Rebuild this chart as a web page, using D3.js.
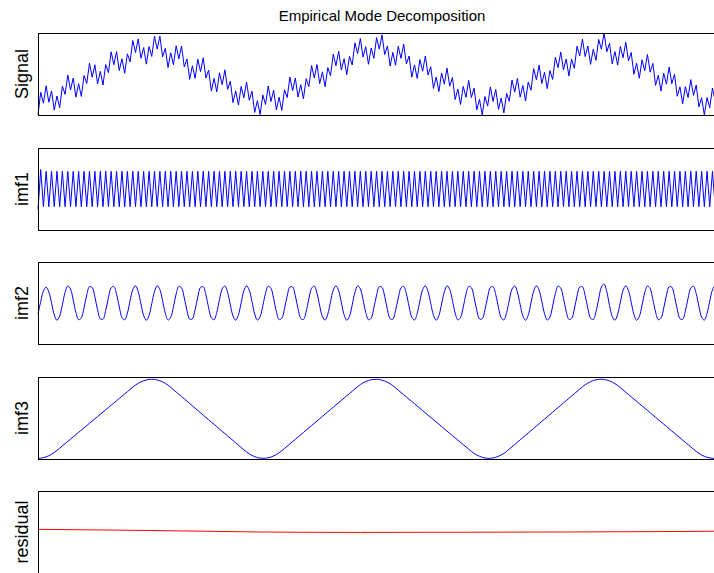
<!DOCTYPE html>
<html>
<head>
<meta charset="utf-8">
<script src="https://cdn.jsdelivr.net/npm/d3@7"></script>
<style>
  body { margin: 0; background: #fff; }
</style>
</head>
<body>
<div class="emd-chart"></div>
<script>
// Panel labels, top to bottom
var panelNames = ["Signal", "imf1", "imf2", "imf3", "residual"];

// Signal, one value per sample (sample = half period of imf1)
var signal = [
  -5.28, -2.31, -3.75, -1.45, -3.63, -2.13, -4.68, -2.80, -4.36, -1.50,
  -2.58, -0.01, -1.99, -0.42, -2.95, -1.17, -2.86, -0.07, -1.13, 1.55,
  -0.30, 1.35, -1.19, 0.48, -1.34, 1.37, 0.31, 3.08, 1.36, 3.11,
  0.58, 2.16, 0.22, 2.81, 1.74, 4.58, 2.99, 4.80, 2.22, 3.64,
  1.44, 3.77, 2.46, 5.15, 3.44, 5.15, 2.40, 3.54, 0.98, 2.95,
  1.36, 3.89, 2.14, 3.85, 1.06, 2.12, -0.59, 1.23, -0.45, 2.10,
  0.44, 2.28, -0.41, 0.64, -2.15, -0.46, -2.24, 0.29, -1.29, 0.68,
  -1.91, -0.82, -3.68, -2.13, -4.01, -1.53, -3.04, -0.94, -3.36, -2.16,
  -4.99, -3.42, -5.28, -2.66, -3.93, -1.47, -3.54, -2.04, -4.66, -2.97,
  -4.72, -1.97, -3.01, -0.29, -2.09, -0.40, -2.94, -1.30, -3.17, -0.50,
  -1.56, 1.25, -0.42, 1.38, -1.15, 0.41, -1.57, 0.98, -0.11, 2.76,
  1.23, 3.14, 0.65, 2.16, 0.04, 2.47, 1.33, 4.26, 2.84, 4.85,
  2.38, 3.76, 1.42, 3.59, 2.21, 4.96, 3.43, 5.33, 2.71, 3.85,
  1.19, 2.99, 1.29, 3.82, 2.20, 4.10, 1.46, 2.52, -0.30, 1.34,
  -0.47, 2.05, 0.49, 2.52, -0.01, 1.09, -1.79, -0.28, -2.21, 0.26,
  -1.23, 0.91, -1.50, -0.34, -3.27, -1.87, -3.93, -1.52, -2.98, -0.73,
  -3.00, -1.75, -4.64, -3.25, -5.33, -2.87, -4.15, -1.60, -3.52, -1.93,
  -4.58, -3.07, -5.05, -2.45, -3.51, -0.67, -2.29, -0.44, -2.96, -1.41,
  -3.46, -0.95, -2.05, 0.84, -0.64, 1.31, -1.14, 0.35, -1.82, 0.57,
  -0.60, 2.34, 0.97, 3.05, 0.67, 2.12, -0.14, 2.11, 0.87, 3.82,
  2.54, 4.77, 2.44, 3.85, 1.41, 3.43, 1.94, 4.72, 3.43, 5.58,
  3.08, 4.21, 1.46, 3.11, 1.30, 3.80, 2.28, 4.35, 1.87, 2.99,
  0.09, 1.55, -0.44, 2.01, 0.54, 2.73, 0.37, 1.54, -1.39, -0.04,
  -2.15, 0.23, -1.23, 1.06, -1.16, 0.10, -2.84, -1.59, -3.84, -1.55,
  -3.01, -0.62, -2.72, -1.35, -4.25, -3.03, -5.31, -3.02, -4.36, -1.74,
  -3.50, -1.79, -4.43, -3.02, -5.21
];

// imf1: fast oscillation (trough, peak, trough ...)
var imf1 = [
  -1.15, 1.1,
  -1, 1, -1, 1, -1, 1, -1, 1, -1, 1, -1, 1, -1, 1, -1, 1, -1, 1, -1, 1,
  -1, 1, -1, 1, -1, 1, -1, 1, -1, 1, -1, 1, -1, 1, -1, 1, -1, 1, -1, 1,
  -1, 1, -1, 1, -1, 1, -1, 1, -1, 1, -1, 1, -1, 1, -1, 1, -1, 1, -1, 1,
  -1, 1, -1, 1, -1, 1, -1, 1, -1, 1, -1, 1, -1, 1, -1, 1, -1, 1, -1, 1,
  -1, 1, -1, 1, -1, 1, -1, 1, -1, 1, -1, 1, -1, 1, -1, 1, -1, 1, -1, 1,
  -1, 1, -1, 1, -1, 1, -1, 1, -1, 1, -1, 1, -1, 1, -1, 1, -1, 1, -1, 1,
  -1, 1, -1, 1, -1, 1, -1, 1, -1, 1, -1, 1, -1, 1, -1, 1, -1, 1, -1, 1,
  -1, 1, -1, 1, -1, 1, -1, 1, -1, 1, -1, 1, -1, 1, -1, 1, -1, 1, -1, 1,
  -1, 1, -1, 1, -1, 1, -1, 1, -1, 1, -1, 1, -1, 1, -1, 1, -1, 1, -1, 1,
  -1, 1, -1, 1, -1, 1, -1, 1, -1, 1, -1, 1, -1, 1, -1, 1, -1, 1, -1, 1,
  -1, 1, -1, 1, -1, 1, -1, 1, -1, 1, -1, 1, -1, 1, -1, 1, -1, 1, -1, 1,
  -1, 1, -1, 1, -1, 1, -1, 1, -1, 1, -1, 1, -1, 1, -1, 1, -1, 1, -1, 1,
  -1, 1, -1, 1, -1, 1, -1, 1, -1, 1, -1, 1,
  -1
];

// imf2: medium oscillation
var imf2 = [
  -0.63, 0.08, 0.69, 0.92, 0.64, 0.01, -0.69, -1.00, -0.76, -0.10,
  0.62, 0.99, 0.81, 0.18, -0.55, -0.97, -0.86, -0.27, 0.47, 0.95,
  0.90, 0.35, -0.39, -0.92, -0.94, -0.43, 0.31, 0.88, 0.96, 0.51,
  -0.22, -0.84, -0.98, -0.59, 0.14, 0.78, 1.00, 0.66, -0.05, -0.73,
  -1.00, -0.72, -0.04, 0.66, 1.00, 0.78, 0.13, -0.59, -0.99, -0.83,
  -0.22, 0.52, 0.97, 0.88, 0.30, -0.44, -0.94, -0.92, -0.39, 0.36,
  0.91, 0.95, 0.47, -0.28, -0.86, -0.97, -0.54, 0.19, 0.82, 0.99,
  0.61, -0.10, -0.76, -1.00, -0.68, 0.01, 0.70, 1.00, 0.74, 0.08,
  -0.64, -0.99, -0.80, -0.16, 0.56, 0.98, 0.85, 0.25, -0.49, -0.96,
  -0.89, -0.34, 0.41, 0.93, 0.93, 0.42, -0.33, -0.89, -0.96, -0.50,
  0.24, 0.85, 0.98, 0.57, -0.16, -0.80, -0.99, -0.64, 0.07, 0.74,
  1.00, 0.71, 0.02, -0.68, -1.00, -0.77, -0.11, 0.61, 0.99, 0.82,
  0.20, -0.54, -0.97, -0.87, -0.28, 0.46, 0.95, 0.91, 0.37, -0.38,
  -0.91, -0.94, -0.45, 0.29, 0.87, 0.97, 0.53, -0.21, -0.83, -0.99,
  -0.60, 0.12, 0.77, 1.00, 0.67, -0.03, -0.71, -1.00, -0.73, -0.06,
  0.65, 1.00, 0.79, 0.15, -0.58, -0.98, -0.84, -0.23, 0.51, 0.96,
  0.89, 0.32, -0.43, -0.93, -0.92, -0.40, 0.35, 0.90, 0.95, 0.48,
  -0.26, -0.86, -0.98, -0.56, 0.17, 0.81, 0.99, 0.63, -0.09, -0.75,
  -1.00, -0.69, 0.00, 0.69, 1.00, 0.75, 0.09, -0.62, -0.99, -0.81,
  -0.18, 0.55, 0.98, 0.86, 0.27, -0.48, -0.95, -0.90, -0.35, 0.40,
  0.92, 0.94, 0.43, -0.31, -0.88, -0.96, -0.51, 0.23, 0.93, 1.10,
  0.65, -0.14, -0.79, -1.00, -0.65, 0.05, 0.73, 1.00, 0.72, 0.04,
  -0.66, -1.00, -0.78, -0.13, 0.60, 0.99, 0.83, 0.21, -0.52, -0.97,
  -0.88, -0.30, 0.44, 0.94, 0.92, 0.38, -0.36, -0.91, -0.95, -0.46,
  0.28, 0.87, 0.97, 0.54, -0.19, -0.82, -0.99, -0.61, 0.11, 0.76,
  1.00, 0.68, -0.02, -0.70, -1.00
];

// imf3: slow, roughly triangular oscillation with rounded turns
var imf3 = [
  -3.50, -3.49, -3.44, -3.37, -3.27, -3.14, -2.99, -2.80, -2.60, -2.40,
  -2.20, -2.00, -1.80, -1.60, -1.40, -1.20, -1.00, -0.80, -0.60, -0.40,
  -0.20, 0.00, 0.20, 0.40, 0.60, 0.80, 1.00, 1.20, 1.40, 1.60,
  1.80, 2.00, 2.20, 2.40, 2.60, 2.80, 2.99, 3.14, 3.27, 3.37,
  3.44, 3.49, 3.50, 3.49, 3.44, 3.37, 3.27, 3.13, 2.97, 2.78,
  2.58, 2.37, 2.17, 1.97, 1.76, 1.56, 1.35, 1.15, 0.94, 0.74,
  0.53, 0.33, 0.12, -0.08, -0.29, -0.49, -0.70, -0.90, -1.11, -1.31,
  -1.52, -1.72, -1.92, -2.13, -2.33, -2.54, -2.74, -2.94, -3.10, -3.24,
  -3.35, -3.43, -3.48, -3.50, -3.49, -3.45, -3.39, -3.29, -3.17, -3.01,
  -2.83, -2.63, -2.42, -2.22, -2.02, -1.82, -1.61, -1.41, -1.21, -1.00,
  -0.80, -0.60, -0.40, -0.19, 0.01, 0.21, 0.42, 0.62, 0.82, 1.02,
  1.23, 1.43, 1.63, 1.84, 2.04, 2.24, 2.44, 2.65, 2.85, 3.03,
  3.18, 3.30, 3.39, 3.46, 3.49, 3.50, 3.48, 3.42, 3.34, 3.23,
  3.10, 2.93, 2.74, 2.53, 2.33, 2.13, 1.93, 1.73, 1.53, 1.33,
  1.13, 0.93, 0.72, 0.52, 0.32, 0.12, -0.08, -0.28, -0.48, -0.68,
  -0.88, -1.09, -1.29, -1.49, -1.69, -1.89, -2.09, -2.29, -2.49, -2.69,
  -2.89, -3.07, -3.21, -3.32, -3.41, -3.47, -3.50, -3.50, -3.47, -3.41,
  -3.32, -3.21, -3.07, -2.89, -2.68, -2.48, -2.28, -2.07, -1.87, -1.66,
  -1.46, -1.26, -1.05, -0.85, -0.64, -0.44, -0.23, -0.03, 0.17, 0.38,
  0.58, 0.79, 0.99, 1.19, 1.40, 1.60, 1.81, 2.01, 2.22, 2.42,
  2.62, 2.83, 3.01, 3.16, 3.29, 3.39, 3.45, 3.49, 3.50, 3.48,
  3.43, 3.35, 3.25, 3.11, 2.95, 2.75, 2.55, 2.35, 2.15, 1.95,
  1.75, 1.55, 1.34, 1.14, 0.94, 0.74, 0.54, 0.33, 0.13, -0.07,
  -0.27, -0.47, -0.67, -0.88, -1.08, -1.28, -1.48, -1.68, -1.89, -2.09,
  -2.29, -2.49, -2.69, -2.89, -3.06, -3.21, -3.32, -3.41, -3.47, -3.50,
  -3.50, -3.47, -3.41, -3.32, -3.21
];

// residual: nearly flat trend, read at a few sample positions
var residualIdx = [0, 30, 60, 82, 119, 159, 193, 230, 254];
var residual = [0.065, 0.045, 0.02, 0.0, -0.01, -0.005, 0.0, 0.01, 0.02];

var width = 714;
var height = 573;
var plotLeft = 38;
var plotRight = 726;
var firstTop = 33;
var panelHeight = 82;
var panelStep = 114.5;

var svg = d3.select(".emd-chart")
            .append("svg")
              .attr("width", width)
              .attr("height", height)
              .style("font-family", "'Liberation Sans', Arial, sans-serif");

svg.append("rect")
   .attr("width", width)
   .attr("height", height)
   .attr("fill", "#fff");

var xScale = d3.scaleLinear()
               .domain([0, signal.length - 1])
               .range([plotLeft, plotRight]);

// one entry per panel: values, their sample positions, y domain, colour, curve
var panels = [
  { values: signal, idx: null, domain: d3.extent(signal), color: "#0000ff", curve: d3.curveLinear },
  { values: imf1, idx: null, domain: [-2.32, 2.32], color: "#0000ff", curve: d3.curveLinear },
  { values: imf2, idx: null, domain: [-2.38, 2.38], color: "#0000ff", curve: d3.curveCatmullRom },
  { values: imf3, idx: null, domain: [-3.56, 3.70], color: "#0000ff", curve: d3.curveMonotoneX },
  { values: residual, idx: residualIdx, domain: [-1, 1], color: "#ff0000", curve: d3.curveMonotoneX }
];

panels.forEach(function(p, k) {
  var top = Math.round(firstTop + k * panelStep);
  var g = svg.append("g")
             .attr("transform", "translate(0," + top + ")");

  var yScale = d3.scaleLinear()
                 .domain(p.domain)
                 .range([panelHeight, 0]);

  var line = d3.line()
               .x(function(d, i) { return xScale(p.idx ? p.idx[i] : i); })
               .y(function(d) { return yScale(d); })
               .curve(p.curve);

  g.append("path")
   .datum(p.values)
   .attr("d", line)
   .attr("fill", "none")
   .attr("stroke", p.color)
   .attr("stroke-width", 1);

  // axes box, no ticks
  g.append("rect")
   .attr("x", plotLeft + 0.5)
   .attr("y", 0.5)
   .attr("width", plotRight - plotLeft)
   .attr("height", panelHeight)
   .attr("fill", "none")
   .attr("stroke", "#000")
   .attr("stroke-width", 1)
   .attr("shape-rendering", "crispEdges");

  g.append("text")
   .attr("transform", "translate(28," + (panelHeight / 2) + ") rotate(-90)")
   .attr("text-anchor", "middle")
   .attr("font-size", "18px")
   .attr("fill", "#000")
   .text(panelNames[k]);
});

svg.append("text")
   .attr("x", 382)
   .attr("y", 21)
   .attr("text-anchor", "middle")
   .attr("font-size", "15px")
   .attr("fill", "#000")
   .text("Empirical Mode Decomposition");
</script>
</body>
</html>
